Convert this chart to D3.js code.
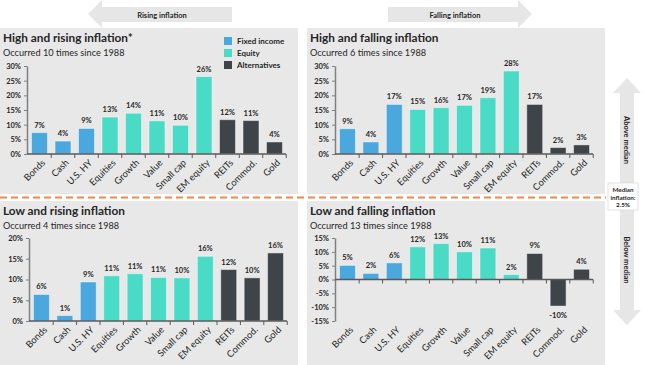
<!DOCTYPE html>
<html lang="en">
<head>
  <meta charset="UTF-8">
  <title>Asset returns by inflation regime</title>
  <script src="https://cdn.jsdelivr.net/npm/d3@7"></script>
  <style>
    body { margin: 0; background: #fff; font-family: Lato, 'Open Sans', sans-serif; }
    svg text { fill: #262626; }
  </style>
</head>
<body>
<div id="grafica"></div>

<script>
// categorias y datos (rendimiento medio, %)
categorias = ['Bonds', 'Cash', 'U.S. HY', 'Equities', 'Growth', 'Value', 'Small cap', 'EM equity', 'REITs', 'Commod.', 'Gold']
grupos     = ['Fixed income', 'Fixed income', 'Fixed income', 'Equity', 'Equity', 'Equity', 'Equity', 'Equity', 'Alternatives', 'Alternatives', 'Alternatives']

altoSube   = [7.3, 4.4, 8.7, 12.6, 13.9, 11.3, 9.8, 26.4, 11.7, 11.4, 4.1]
altoBaja   = [8.6, 4.1, 16.9, 15.2, 15.8, 16.6, 19.2, 28.3, 16.9, 2.2, 3.1]
bajoSube   = [6.4, 1.3, 9.4, 10.9, 11.4, 10.5, 10.4, 15.6, 12.4, 10.4, 16.4]
bajoBaja   = [5.1, 2.2, 6.0, 11.8, 13.0, 10.0, 11.4, 1.8, 9.4, -9.6, 3.7]

ticksAlto  = [0, 5, 10, 15, 20, 25, 30]
ticksBajoS = [0, 5, 10, 15, 20]
ticksBajoB = [-15, -10, -5, 0, 5, 10, 15]

leyenda = ['Fixed income', 'Equity', 'Alternatives']
colores = d3.scaleOrdinal().domain(leyenda).range(['#4aa8de', '#4adbc7', '#3f4448'])

ancho = 646
alto  = 365

svg = d3.select('#grafica')
        .append('svg')
        .attr('width', ancho)
        .attr('height', alto)

// flechas de fondo
gris = '#e6e6e6'
svg.append('path')
   .attr('d', 'M88,14 L102,0 L102,7 L232,7 L232,22 L102,22 L102,28 Z')
   .attr('fill', gris)
svg.append('text').attr('x', 162).attr('y', 17.5).attr('text-anchor', 'middle')
   .attr('font-size', 7.5).attr('font-weight', 'bold').text('Rising inflation')

svg.append('path')
   .attr('d', 'M532,14 L518,0 L518,7 L388,7 L388,22 L518,22 L518,28 Z')
   .attr('fill', gris)
svg.append('text').attr('x', 455).attr('y', 17.5).attr('text-anchor', 'middle')
   .attr('font-size', 7.5).attr('font-weight', 'bold').text('Falling inflation')

svg.append('path')
   .attr('d', 'M627,78 L641,93 L634,93 L634,184 L620,184 L620,93 L613,93 Z')
   .attr('fill', gris)
svg.append('path')
   .attr('d', 'M627,325 L641,310 L634,310 L634,209 L620,209 L620,310 L613,310 Z')
   .attr('fill', gris)

svg.append('text').attr('transform', 'translate(624,140) rotate(90)').attr('text-anchor', 'middle')
   .attr('font-size', 7.5).attr('font-weight', 'bold').text('Above median')
svg.append('text').attr('transform', 'translate(624,260) rotate(90)').attr('text-anchor', 'middle')
   .attr('font-size', 7.5).attr('font-weight', 'bold').text('Below median')

svg.append('rect').attr('x', 608).attr('y', 183).attr('width', 30).attr('height', 27)
   .attr('fill', '#fff').attr('stroke', '#d9d9d9').attr('stroke-width', 0.8)
;['Median', 'inflation:', '2.5%'].forEach(function(t, i) {
  svg.append('text').attr('x', 623).attr('y', 192 + i * 7.5).attr('text-anchor', 'middle')
     .attr('font-size', 6.3).attr('font-weight', 'bold').text(t)
})

// paneles
paneles = [
  { titulo: 'High and rising inflation*', sub: 'Occurred 10 times since 1988', datos: altoSube, ticks: ticksAlto,
    px: 0, py: 28, pw: 298, ph: 166, x0: 27, x1: 286, yTop: 66, yBot: 154, leyenda: true },
  { titulo: 'High and falling inflation', sub: 'Occurred 6 times since 1988', datos: altoBaja, ticks: ticksAlto,
    px: 307, py: 28, pw: 298, ph: 166, x0: 335, x1: 593, yTop: 66, yBot: 154 },
  { titulo: 'Low and rising inflation', sub: 'Occurred 4 times since 1988', datos: bajoSube, ticks: ticksBajoS,
    px: 0, py: 201, pw: 298, ph: 164, x0: 29, x1: 287, yTop: 238, yBot: 321 },
  { titulo: 'Low and falling inflation', sub: 'Occurred 13 times since 1988', datos: bajoBaja, ticks: ticksBajoB,
    px: 307, py: 201, pw: 298, ph: 164, x0: 335, x1: 593, yTop: 238, yBot: 321 }
]

paneles.forEach(function(p) {
  g = svg.append('g')

  g.append('rect').attr('x', p.px).attr('y', p.py).attr('width', p.pw).attr('height', p.ph).attr('fill', '#e8e8e8')

  g.append('text').attr('x', p.px + 3).attr('y', p.py + 13.5)
   .attr('font-size', 11.8).attr('font-weight', 'bold').attr('fill', '#1a1a1a').text(p.titulo)
  g.append('text').attr('x', p.px + 3).attr('y', p.py + 28)
   .attr('font-size', 9.2).attr('fill', '#333').text(p.sub)

  x = d3.scaleBand()
        .domain(categorias)
        .range([p.x0 + 1, p.x1])
        .paddingInner(0.32)
        .paddingOuter(0.15)
  y = d3.scaleLinear()
        .domain(d3.extent(p.ticks))
        .range([p.yBot, p.yTop])

  // eje y
  ejeY = g.append('g')
          .attr('transform', 'translate(' + p.x0 + ',0)')
          .call(d3.axisLeft(y).tickValues(p.ticks).tickSize(3).tickSizeOuter(0).tickFormat(d => d + '%'))
  ejeY.select('.domain').attr('stroke', '#808080').attr('stroke-width', 1.5)
  ejeY.selectAll('.tick line').attr('stroke', '#808080').attr('stroke-width', 1)
  ejeY.selectAll('.tick text').attr('font-size', 7.5).attr('font-weight', 'bold')
      .attr('font-family', 'Lato, sans-serif').attr('fill', '#262626').attr('x', -6)

  filas = categorias.map(function(c, i) { return { cat: c, grupo: grupos[i], valor: p.datos[i] } })

  g.selectAll('rect.barra')
   .data(filas)
   .enter()
   .append('rect')
   .attr('class', 'barra')
   .attr('x', d => x(d.cat))
   .attr('y', d => y(Math.max(0, d.valor)))
   .attr('width', x.bandwidth())
   .attr('height', d => Math.abs(y(d.valor) - y(0)))
   .attr('fill', d => colores(d.grupo))
   .attr('stroke', 'rgba(255,255,255,0.45)')
   .attr('stroke-width', 1)

  g.selectAll('text.valor')
   .data(filas)
   .enter()
   .append('text')
   .attr('class', 'valor')
   .attr('x', d => x(d.cat) + x.bandwidth() / 2)
   .attr('y', d => d.valor >= 0 ? y(d.valor) - 5 : y(d.valor) + 12)
   .attr('text-anchor', 'middle')
   .attr('font-size', 7.5)
   .attr('font-weight', 'bold')
   .text(d => Math.round(d.valor) + '%')

  // eje x en el cero
  cero = y(0)
  g.append('line').attr('x1', p.x0).attr('x2', p.x1).attr('y1', cero).attr('y2', cero)
   .attr('stroke', '#595959').attr('stroke-width', 1.5)
  paso = x.step()
  limites = categorias.map(c => x(c) - paso * x.paddingInner() / 2)
  limites.push(x(categorias[categorias.length - 1]) + x.bandwidth() + paso * x.paddingInner() / 2)
  g.selectAll('line.marca')
   .data(limites.slice(1))
   .enter()
   .append('line')
   .attr('class', 'marca')
   .attr('x1', d => d).attr('x2', d => d)
   .attr('y1', cero).attr('y2', cero + 4)
   .attr('stroke', '#595959').attr('stroke-width', 1)

  // etiquetas rotadas abajo del grafico
  base = y(d3.min(p.ticks))
  g.selectAll('text.cat')
   .data(categorias)
   .enter()
   .append('text')
   .attr('class', 'cat')
   .attr('transform', d => 'translate(' + (x(d) + x.bandwidth() / 2 + 4) + ',' + (base + 7) + ') rotate(-45)')
   .attr('text-anchor', 'end')
   .attr('dy', '0.35em')
   .attr('font-size', 9.3)
   .attr('fill', '#1a1a1a')
   .text(d => d)

  if (p.leyenda) {
    leyenda.forEach(function(l, i) {
      g.append('rect').attr('x', 224).attr('y', 37 + i * 12).attr('width', 8).attr('height', 8).attr('fill', colores(l))
      g.append('text').attr('x', 237).attr('y', 44 + i * 12).attr('font-size', 8)
       .attr('font-weight', 'bold').text(l)
    })
  }
})

// linea de la mediana
svg.append('line')
   .attr('x1', 0).attr('x2', 606).attr('y1', 197.5).attr('y2', 197.5)
   .attr('stroke', '#ee8a4c').attr('stroke-width', 2)
   .attr('stroke-dasharray', '7,4')
</script>
</body>
</html>
